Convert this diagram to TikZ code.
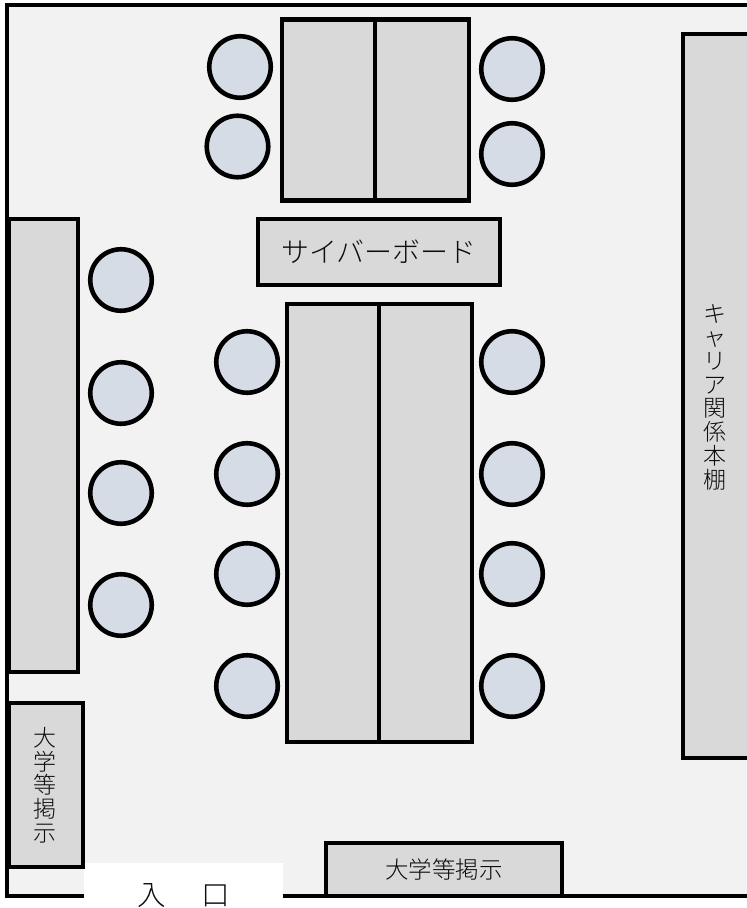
\documentclass[tikz,border=0pt]{standalone}
\usepackage{fontspec}
\setmainfont{Noto Sans CJK JP}[UprightFont=* Light]
\definecolor{roomfill}{HTML}{F2F2F2}
\definecolor{boxfill}{HTML}{D9D9D9}
\definecolor{seatfill}{HTML}{D6DCE5}
\definecolor{inkc}{HTML}{0D0D0D}
\tikzset{
  wall/.style={draw=black,line width=4.4pt,fill=roomfill},
  fbox/.style={draw=black,line width=4.4pt,fill=boxfill,inner sep=0pt,outer sep=0pt,text=inkc,align=center},
  seat/.style={circle,draw=black,line width=4.6pt,fill=seatfill,minimum size=61.5pt,inner sep=0pt,outer sep=0pt},
  label/.style={text=inkc,inner sep=0pt,align=center},
  vstack/.style={font=\fontsize{23}{23.7}\selectfont},
  entrance/.style={label,font=\fontsize{28.5}{28.5}\selectfont}
}
\newcommand{\rectbox}[6][]{\node[fbox,#1,minimum width=#4pt,minimum height=#5pt] (#2) at (#3) {#6};}
\begin{document}
\begin{tikzpicture}[x=1pt,y=-1pt]
\useasboundingbox (0,0) rectangle (747,908);
\clip (0,0) rectangle (747,908);
% room
\path[wall] (7,5) rectangle (770,896);
% entrance gap
\fill[white] (84,863) rectangle (283,910);
\node[entrance] (entA) at (152,896) {入};
\node[entrance] (entB) at (216,896) {口};
% top table
\rectbox{tl}{328.5,110}{93}{181}{}
\rectbox{tr}{422,110}{94}{181}{}
% board
\rectbox{cyber}{379,252}{242}{66}{\fontsize{28}{30}\selectfont サイバーボード}
% lower table
\rectbox{bl}{333,523}{92}{438}{}
\rectbox{br}{425.5,523}{93}{438}{}
% left shelf
\rectbox{lshelf}{43.5,445.5}{69}{453}{}
% right shelf
\rectbox{rshelf}{725,396}{84}{724}{}
\node[label,vstack] (rtext) at (715,397) {キ\\ャ\\リ\\ア\\関\\係\\本\\棚};
% small boards
\rectbox{sboard}{46,785}{74}{164}{}
\node[label,vstack] (stext) at (45,785) {大\\学\\等\\掲\\示};
\rectbox{bboard}{444,869.5}{236}{53}{\fontsize{23.5}{25}\selectfont 大学等掲示}
% seats
\node[seat] (s1) at (240,67) {};
\node[seat] (s2) at (237.5,146.5) {};
\node[seat] (s3) at (512,69) {};
\node[seat] (s4) at (512,154) {};
\node[seat] (s5) at (121,280) {};
\node[seat] (s6) at (121,393) {};
\node[seat] (s7) at (121,493) {};
\node[seat] (s8) at (121,605) {};
\node[seat] (s9) at (247,362) {};
\node[seat] (s10) at (247,474) {};
\node[seat] (s11) at (247,574) {};
\node[seat] (s12) at (247,686) {};
\node[seat] (s13) at (512,362) {};
\node[seat] (s14) at (512,474) {};
\node[seat] (s15) at (512,574) {};
\node[seat] (s16) at (512,686) {};
\end{tikzpicture}
\end{document}
